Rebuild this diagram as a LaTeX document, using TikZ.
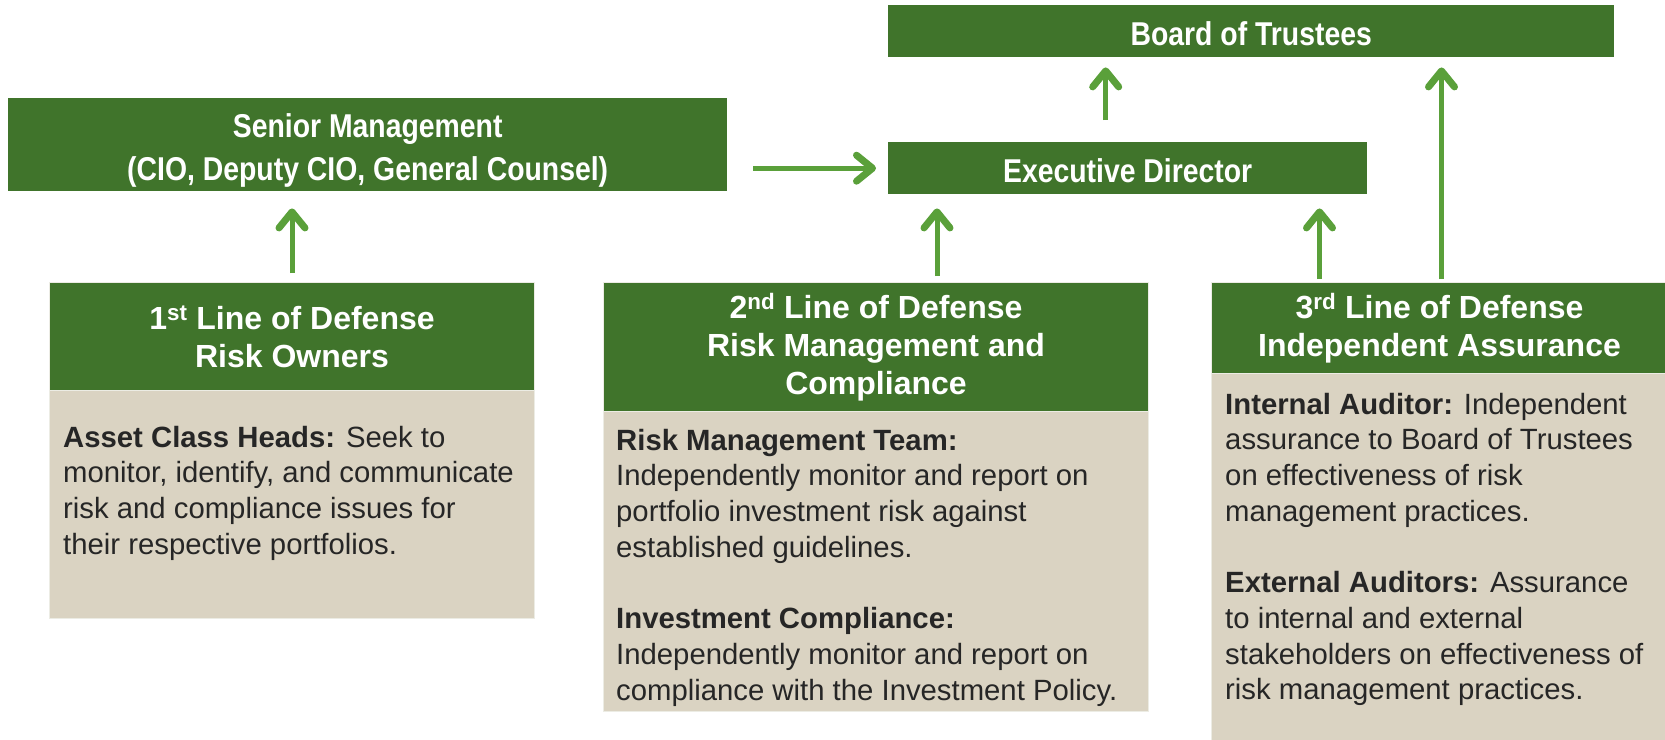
\documentclass[tikz,border=0pt]{standalone}
\usepackage{fontspec}
\setmainfont{Liberation Sans}
\newfontfamily\narrowfont[FakeStretch=0.86]{Liberation Sans}
\usetikzlibrary{arrows.meta,calc}
\definecolor{hdr}{RGB}{64,116,43}
\definecolor{arrc}{RGB}{90,160,58}
\definecolor{bodyc}{RGB}{218,211,194}
\definecolor{txt}{RGB}{38,38,38}
\definecolor{edge}{RGB}{236,236,228}
\begin{document}
\begin{tikzpicture}[x=1pt,y=-1pt,
  topbox/.style={fill=hdr,text=white,inner sep=0pt,anchor=north west,align=center,
    font=\narrowfont\bfseries\fontsize{33}{43}\selectfont},
  hdrbox/.style={fill=hdr,draw=edge,line width=1pt,text=white,inner sep=0pt,anchor=north west,align=center,
    font=\bfseries\fontsize{32}{38}\selectfont},
  bodybox/.style={fill=bodyc,draw=edge,line width=1pt,inner sep=0pt,anchor=north west},
  bodytext/.style={text=txt,inner sep=0pt,anchor=north west,align=left,
    font=\fontsize{29.3}{35.7}\selectfont},
  arr/.style={draw=arrc,line width=5pt,
    -{Straight Barb[length=16pt,width=26pt,line width=7pt,round]}}
]
\useasboundingbox (0,0) rectangle (1665,739);
\fill[white] (0,0) rectangle (1665,739);

% top row
\node[topbox,minimum width=719pt,minimum height=93pt] (sm) at (8,98)
  {\rule{0pt}{36pt}Senior Management\\(CIO, Deputy CIO, General Counsel)};
\node[topbox,minimum width=726pt,minimum height=52pt] (bot) at (888,5)
  {\rule{0pt}{28pt}Board of Trustees};
\node[topbox,minimum width=479pt,minimum height=52pt] (ed) at (888,142)
  {\rule{0pt}{28pt}Executive Director};

% 1st line
\node[hdrbox,minimum width=485pt,minimum height=108pt] (h1) at (49,282)
  {1\textsuperscript{st} Line of Defense\\Risk Owners};
\node[bodybox,minimum width=485pt,minimum height=228pt] (b1) at (49,390) {};
\node[bodytext] (t1) at (63,422)
  {\strut\textbf{Asset Class Heads:} Seek to\\
   monitor, identify, and communicate\\
   risk and compliance issues for\\
   their respective portfolios.};

% 2nd line
\node[hdrbox,minimum width=545pt,minimum height=129pt] (h2) at (603,282)
  {2\textsuperscript{nd} Line of Defense\\Risk Management and\\Compliance};
\node[bodybox,minimum width=545pt,minimum height=300pt] (b2) at (603,411) {};
\node[bodytext] (t2) at (616,425)
  {\strut\textbf{Risk Management Team:}\\
   Independently monitor and report on\\
   portfolio investment risk against\\
   established guidelines.\\[35.7pt]
   \textbf{Investment Compliance:}\\
   Independently monitor and report on\\
   compliance with the Investment Policy.};

% 3rd line
\node[hdrbox,minimum width=456pt,minimum height=91pt] (h3) at (1211,282)
  {3\textsuperscript{rd} Line of Defense\\Independent Assurance};
\node[bodybox,minimum width=456pt,minimum height=368pt] (b3) at (1211,373) {};
\node[bodytext] (t3) at (1225,389)
  {\strut\textbf{Internal Auditor:} Independent\\
   assurance to Board of Trustees\\
   on effectiveness of risk\\
   management practices.\\[35.7pt]
   \textbf{External Auditors:} Assurance\\
   to internal and external\\
   stakeholders on effectiveness of\\
   risk management practices.};

% connectors
\draw[arr] ([yshift=9pt]h1.north) -- ([yshift=-17pt]h1.north |- sm.south);
\draw[arr] ([xshift=61pt,yshift=6pt]h2.north) -- ([xshift=61pt,yshift=-14pt]h2.north |- ed.south);
\draw[arr] ([xshift=-120pt,yshift=3pt]h3.north) -- ([xshift=-120pt,yshift=-14pt]h3.north |- ed.south);
\draw[arr] ([xshift=2pt,yshift=3pt]h3.north) -- ([xshift=2pt,yshift=-10pt]h3.north |- bot.south);
\draw[arr] ([xshift=-22pt,yshift=22pt]ed.north) -- ([xshift=-22pt,yshift=-10pt]ed.north |- bot.south);
\draw[arr] ([xshift=26pt]sm.east |- ed.west) -- ([xshift=-12pt]ed.west);
\end{tikzpicture}
\end{document}
